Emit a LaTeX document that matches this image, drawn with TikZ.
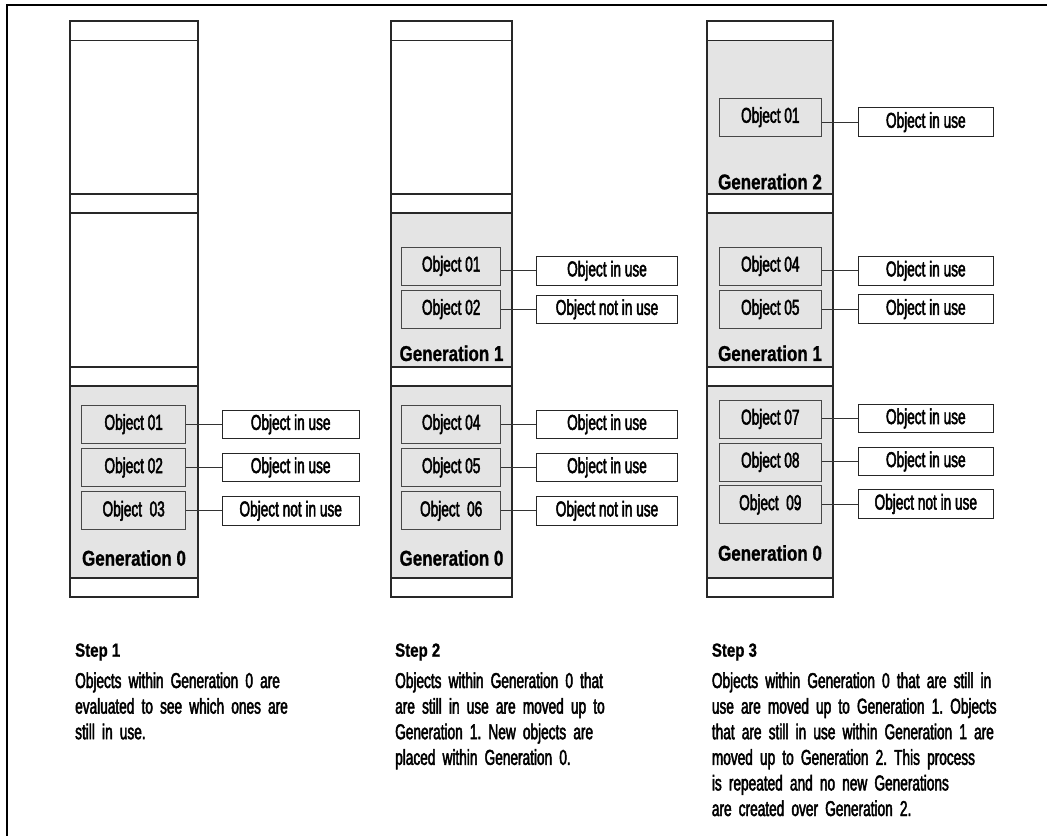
\documentclass[tikz,border=0pt]{standalone}
\usepackage{fontspec}
\newfontfamily\condreg{Liberation Sans}[FakeStretch=0.635,FakeBold=2.2]
\newfontfamily\condbold{Liberation Sans}[FakeStretch=0.79,FakeBold=1]
\definecolor{genfill}{RGB}{228,228,228}
\definecolor{edge}{RGB}{40,40,40}

\newcommand\txtfont{\frenchspacing\condreg\fontsize{21.5}{25.6}\selectfont}
\newcommand\genfont{\condbold\bfseries\fontsize{21.5}{25.6}\selectfont}
\newcommand\stepfont{\condbold\bfseries\fontsize{19}{24}\selectfont}

% one memory column: left x, right x, fill of the three regions (top to bottom)
\newcommand\memcolumn[5]{%
  \fill[#3] (#1,40.5) rectangle (#2,194);
  \fill[#4] (#1,213) rectangle (#2,367);
  \fill[#5] (#1,386) rectangle (#2,578);
  \draw[colline] (#1,21) rectangle (#2,597);
  \foreach \yy in {40.5,194,213,367,386,578}
    \draw[colline] (#1,\yy) -- (#2,\yy);
}

\begin{document}
\begin{tikzpicture}[x=1pt,y=-1pt,
  colline/.style={draw=edge,line width=1.2pt},
  frameline/.style={draw=black,line width=1.7pt},
  objbox/.style={draw=black!72,fill=genfill,line width=0.9pt,minimum height=38pt,inner sep=0pt,font=\txtfont},
  usebox/.style={draw=black!85,fill=white,line width=1pt,minimum height=28.5pt,inner sep=0pt,font=\txtfont},
  genlabel/.style={inner sep=0pt,font=\genfont},
  link/.style={draw=black!80,line width=0.9pt},
  steptitle/.style={anchor=base west,inner sep=0pt,font=\stepfont},
  steptext/.style={anchor=base west,inner sep=0pt,font=\txtfont,text width=320pt,align=left}]
\useasboundingbox (0,0) rectangle (1047,836);

% open frame along the top and the left
\draw[frameline] (1047,5) -- (7,5) -- (7,836);

% the three heaps
\memcolumn{70}{198}{white}{white}{genfill}
\memcolumn{391}{512}{white}{genfill}{genfill}
\memcolumn{707}{833}{genfill}{genfill}{genfill}

% ---- Step 1 ----
\node[objbox,minimum width=104pt] (a1) at (133.7,424.2) {Object 01};
\node[objbox,minimum width=104pt] (a2) at (133.7,467.5) {Object 02};
\node[objbox,minimum width=104pt] (a3) at (133.7,510.8) {Object\ \ 03};
\node[usebox,minimum width=136.7pt] (ua1) at (290.7,424.3) {Object in use};
\node[usebox,minimum width=136.7pt] (ua2) at (290.7,467.5) {Object in use};
\node[usebox,minimum width=136.7pt] (ua3) at (290.7,510.8) {Object not in use};
\node[genlabel] (ga0) at (134,558) {Generation 0};
\foreach \i in {1,2,3} \draw[link] (a\i.east |- ua\i.west) -- (ua\i.west);

% ---- Step 2 ----
\node[objbox,minimum width=99pt] (b1) at (451.2,266) {Object 01};
\node[objbox,minimum width=99pt] (b2) at (451.2,309.2) {Object 02};
\node[usebox,minimum width=140.6pt] (ub1) at (607,270.8) {Object in use};
\node[usebox,minimum width=140.6pt] (ub2) at (607,309.3) {Object not in use};
\node[genlabel] (gb1) at (451.5,353.3) {Generation 1};
\node[objbox,minimum width=99pt] (b4) at (451.2,424.2) {Object 04};
\node[objbox,minimum width=99pt] (b5) at (451.2,467.5) {Object 05};
\node[objbox,minimum width=99pt] (b6) at (451.2,510.8) {Object\ \ 06};
\node[usebox,minimum width=140.6pt] (ub4) at (607,424.3) {Object in use};
\node[usebox,minimum width=140.6pt] (ub5) at (607,467.5) {Object in use};
\node[usebox,minimum width=140.6pt] (ub6) at (607,510.8) {Object not in use};
\node[genlabel] (gb0) at (451.5,558) {Generation 0};
\foreach \i in {1,2,4,5,6} \draw[link] (b\i.east |- ub\i.west) -- (ub\i.west);

% ---- Step 3 ----
\node[objbox,minimum width=102.7pt] (c1) at (770.3,117.2) {Object 01};
\node[usebox,minimum width=135pt] (uc1) at (925.8,122.2) {Object in use};
\node[genlabel] (gc2) at (770,181.7) {Generation 2};
\node[objbox,minimum width=102.7pt] (c4) at (770.3,266) {Object 04};
\node[objbox,minimum width=102.7pt] (c5) at (770.3,309.2) {Object 05};
\node[usebox,minimum width=135pt] (uc4) at (925.8,270.8) {Object in use};
\node[usebox,minimum width=135pt] (uc5) at (925.8,309.2) {Object in use};
\node[genlabel] (gc1) at (770,353.3) {Generation 1};
\node[objbox,minimum width=102.7pt] (c7) at (770.3,419) {Object 07};
\node[objbox,minimum width=102.7pt] (c8) at (770.3,462) {Object 08};
\node[objbox,minimum width=102.7pt] (c9) at (770.3,504.5) {Object\ \ 09};
\node[usebox,minimum width=135pt] (uc7) at (925.8,418.5) {Object in use};
\node[usebox,minimum width=135pt] (uc8) at (925.8,461.5) {Object in use};
\node[usebox,minimum width=135pt] (uc9) at (925.8,504) {Object not in use};
\node[genlabel] (gc0) at (770,553) {Generation 0};
\foreach \i in {1,4,5,7,8,9} \draw[link] (c\i.east |- uc\i.west) -- (uc\i.west);

% ---- captions ----
\node[steptitle] (s1) at (75,656.7) {Step 1};
\node[steptext] (t1) at (75,688) {Objects within Generation 0 are\\evaluated to see which ones are\\still in use.};
\node[steptitle] (s2) at (395,656.7) {Step 2};
\node[steptext] (t2) at (395,688) {Objects within Generation 0 that\\are still in use are moved up to\\Generation 1. New objects are\\placed within Generation 0.};
\node[steptitle] (s3) at (711.7,656.7) {Step 3};
\node[steptext] (t3) at (711.7,688) {Objects within Generation 0 that are still in\\use are moved up to Generation 1. Objects\\that are still in use within Generation 1 are\\moved up to Generation 2. This process\\is repeated and no new Generations\\are created over Generation 2.};
\end{tikzpicture}
\end{document}
